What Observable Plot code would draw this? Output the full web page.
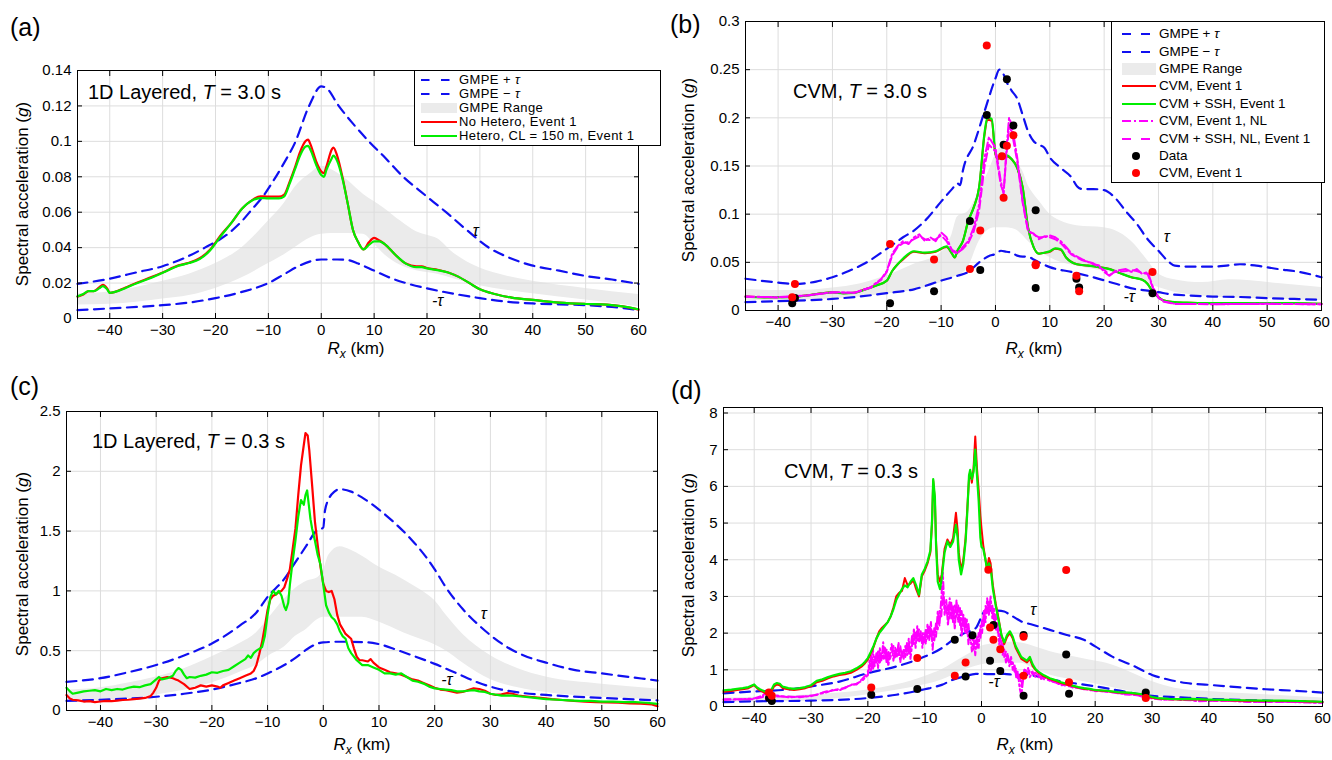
<!DOCTYPE html>
<html><head><meta charset="utf-8">
<script src="https://cdn.jsdelivr.net/npm/d3@7"></script>
<script src="https://cdn.jsdelivr.net/npm/@observablehq/plot@0.6"></script>
<style>
body{margin:0;background:#fff;}
#wrap{position:relative;width:1332px;height:760px;overflow:hidden;font-family:"Liberation Sans",Arial,sans-serif;color:#000;background:#fff;}
.pan{position:absolute;}
.t{position:absolute;white-space:nowrap;line-height:1;}
.yt{transform:translate(-50%,-50%) rotate(-90deg);font-size:17px;}
.xt{transform:translate(-50%,-50%);font-size:17px;}
.lg{position:absolute;border:1px solid #000;background:#fff;box-sizing:border-box;}
.lr{position:absolute;white-space:nowrap;line-height:1;}
</style></head>
<body><div id="wrap"></div>
<script>
// ---------- shared ticks ----------
const xTicks = [-40,-30,-20,-10,0,10,20,30,40,50,60];
const yTicksA = [0,0.02,0.04,0.06,0.08,0.1,0.12,0.14];
const yTicksB = [0,0.05,0.1,0.15,0.2,0.25,0.3];
const yTicksC = [0,0.5,1,1.5,2,2.5];
const yTicksD = [0,1,2,3,4,5,6,7,8];

// ---------- panel (a): 1D layered, T = 3.0 s ----------
const aPlus = [[-46.1,0.0195],[-40,0.0225],[-35,0.026],[-30,0.0295],[-26,0.034],[-22,0.040],[-18,0.047],[-15,0.055],[-13,0.062],[-11,0.069],[-9,0.078],[-7,0.088],[-5,0.099],[-2.3,0.120],[0,0.131],[1,0.130],[3.3,0.120],[6,0.110],[9,0.100],[12,0.091],[15.5,0.080],[19.5,0.070],[23.6,0.060],[27.5,0.050],[31.7,0.040],[35,0.035],[39.8,0.030],[45,0.027],[50,0.024],[55,0.022],[60,0.0195]];
const aMinus = [[-46.1,0.0047],[-40,0.0057],[-30,0.0075],[-25,0.009],[-20,0.0115],[-15,0.015],[-10,0.020],[-7,0.025],[-4,0.030],[-1,0.033],[0,0.0333],[3,0.0333],[5,0.033],[7,0.031],[10,0.027],[13,0.023],[16,0.020],[20,0.017],[25,0.014],[30,0.0115],[35,0.0095],[40,0.0085],[45,0.008],[50,0.0075],[55,0.0065],[60,0.0048]];
const aBand = [[-46.1,0.0076,0.014],[-40,0.008,0.015],[-30,0.011,0.021],[-25,0.013,0.025],[-20,0.017,0.031],[-15,0.023,0.040],[-10,0.031,0.055],[-7,0.036,0.065],[-5,0.040,0.074],[-2,0.0456,0.082],[0,0.0475,0.086],[2,0.048,0.084],[5,0.048,0.078],[8,0.0475,0.070],[10,0.042,0.066],[12,0.036,0.062],[15,0.030,0.055],[18,0.027,0.049],[20,0.026,0.047],[22,0.025,0.045],[25,0.0225,0.037],[30,0.0185,0.0285],[35,0.016,0.024],[40,0.014,0.021],[50,0.0105,0.017],[60,0.0067,0.0135]];
const aNoHetero = [[-46.1,0.0123],[-45,0.0135],[-44,0.0155],[-43,0.0155],[-42,0.0175],[-41.3,0.019],[-40.5,0.017],[-40,0.0145],[-39,0.015],[-37,0.0175],[-35,0.020],[-32,0.0235],[-30,0.026],[-27,0.030],[-25,0.0315],[-23,0.034],[-21,0.039],[-19,0.047],[-17,0.054],[-15,0.062],[-13,0.067],[-11.5,0.069],[-10,0.0688],[-8,0.0688],[-7,0.070],[-6,0.077],[-5,0.085],[-4,0.094],[-3,0.100],[-2.5,0.101],[-2,0.098],[-1,0.089],[0,0.083],[0.5,0.082],[1,0.086],[2,0.0955],[2.3,0.0965],[3,0.092],[4,0.080],[5,0.065],[6,0.050],[7,0.043],[8,0.039],[9,0.043],[10,0.0455],[11,0.044],[12,0.042],[14,0.036],[16,0.031],[18,0.0295],[19,0.0295],[20,0.0285],[22,0.0275],[24,0.026],[26,0.0235],[28,0.020],[30,0.0165],[33,0.0137],[36,0.0118],[40,0.0105],[45,0.009],[50,0.0082],[54,0.0078],[57,0.0068],[60,0.005]];
const aHetero = [[-46.1,0.0125],[-45,0.0138],[-44,0.0155],[-43,0.0155],[-42,0.017],[-41.3,0.0183],[-40.5,0.0165],[-40,0.0145],[-39,0.015],[-37,0.0172],[-35,0.0198],[-32,0.0232],[-30,0.0258],[-27,0.0298],[-25,0.0313],[-23,0.0335],[-21,0.0385],[-19,0.0465],[-17,0.054],[-15,0.062],[-13,0.0668],[-11.5,0.068],[-10,0.0678],[-8,0.0678],[-7,0.069],[-6,0.076],[-5,0.084],[-4,0.092],[-3,0.097],[-2.5,0.0975],[-2,0.095],[-1,0.087],[0,0.081],[0.5,0.080],[1,0.084],[2,0.0905],[2.3,0.092],[3,0.089],[4,0.079],[5,0.065],[6,0.050],[7,0.043],[8,0.039],[9,0.0415],[10,0.0435],[11,0.0435],[12,0.042],[14,0.036],[16,0.031],[18,0.029],[19,0.029],[20,0.0283],[22,0.0273],[24,0.026],[26,0.0235],[28,0.020],[30,0.0165],[33,0.0137],[36,0.0118],[40,0.0105],[45,0.009],[50,0.0082],[54,0.0078],[57,0.0068],[60,0.0052]];
const aTau = [[29.2,0.0497,"τ"],[22,0.0097,"-τ"]];

// ---------- panel (b): CVM, T = 3.0 s ----------
const bPlus = [[-46,0.033],[-40,0.029],[-37,0.0276],[-33,0.030],[-30,0.0345],[-27,0.041],[-24,0.049],[-20,0.064],[-17,0.076],[-15,0.083],[-13,0.093],[-10,0.113],[-8,0.126],[-7,0.132],[-6.5,0.130],[-6,0.145],[-4,0.172],[-2,0.207],[0,0.241],[0.7,0.250],[1.5,0.245],[2,0.238],[3,0.228],[4,0.220],[5,0.203],[6,0.186],[7,0.176],[8,0.172],[9,0.169],[10,0.159],[12,0.148],[14,0.138],[15,0.129],[16,0.126],[18,0.126],[20,0.125],[22,0.117],[24,0.103],[26,0.090],[28,0.074],[30,0.062],[32,0.050],[33,0.0466],[36,0.0455],[40,0.0455],[43,0.047],[45,0.048],[48,0.0466],[52,0.043],[56,0.040],[60,0.0345]];
const bMinus = [[-46,0.0086],[-40,0.0097],[-30,0.012],[-25,0.0145],[-20,0.018],[-15,0.022],[-10,0.031],[-7,0.036],[-5,0.040],[-3,0.050],[-1,0.057],[0,0.0586],[1,0.062],[2,0.061],[3,0.060],[4,0.057],[5,0.056],[6,0.056],[7,0.053],[10,0.045],[14,0.040],[18,0.0345],[22,0.028],[26,0.022],[28,0.0207],[30,0.019],[32,0.017],[36,0.0155],[40,0.0145],[45,0.014],[50,0.0128],[55,0.012],[60,0.011]];
const bBand = [[-46,0.0103,0.022],[-40,0.0105,0.0207],[-35,0.011,0.021],[-30,0.012,0.0234],[-25,0.014,0.0276],[-20,0.017,0.036],[-15,0.021,0.048],[-10,0.029,0.060],[-8,0.034,0.079],[-7,0.036,0.097],[-5,0.045,0.103],[-3,0.072,0.124],[-1,0.0845,0.148],[0,0.086,0.162],[1,0.086,0.169],[2,0.086,0.166],[3,0.085,0.159],[4,0.083,0.152],[5,0.078,0.145],[6,0.072,0.130],[7,0.067,0.121],[8,0.062,0.114],[10,0.055,0.100],[12,0.050,0.093],[15,0.046,0.088],[20,0.041,0.086],[22,0.039,0.083],[25,0.0345,0.072],[28,0.028,0.052],[30,0.024,0.038],[33,0.019,0.032],[38,0.015,0.029],[43,0.013,0.032],[47,0.0125,0.031],[52,0.012,0.028],[56,0.011,0.026],[60,0.0103,0.024]];
const bCVM = [[-46,0.0145],[-42,0.0138],[-38,0.014],[-35,0.0155],[-32,0.018],[-30,0.019],[-28,0.018],[-26,0.0185],[-24,0.022],[-22,0.026],[-20,0.031],[-19,0.041],[-18,0.048],[-17,0.053],[-15,0.061],[-13,0.0595],[-11,0.061],[-9,0.066],[-8,0.059],[-7.5,0.055],[-7,0.062],[-6,0.072],[-5,0.093],[-4,0.107],[-3,0.128],[-2,0.183],[-1.5,0.198],[-0.7,0.197],[0,0.162],[0.5,0.157],[1,0.162],[1.5,0.159],[2,0.160],[3,0.157],[4,0.148],[5,0.128],[6,0.086],[7,0.066],[8,0.059],[9,0.060],[10,0.061],[11,0.064],[12,0.063],[13,0.055],[15,0.048],[17,0.0466],[19,0.045],[21,0.043],[23,0.0386],[25,0.0345],[27,0.032],[28,0.0276],[29,0.019],[30,0.0138],[31,0.0103],[33,0.0086],[36,0.008],[40,0.0076],[45,0.0076],[50,0.0078],[55,0.0076],[60,0.0069]];
const bCVMSSH = [[-46,0.0143],[-42,0.0136],[-38,0.0138],[-35,0.0153],[-32,0.0178],[-30,0.0188],[-28,0.0178],[-26,0.0183],[-24,0.0218],[-22,0.0258],[-20,0.031],[-19,0.041],[-18,0.048],[-17,0.054],[-15,0.0615],[-13,0.060],[-11,0.0615],[-9,0.0665],[-8,0.059],[-7.5,0.055],[-7,0.062],[-6,0.072],[-5,0.093],[-4,0.107],[-3,0.128],[-2,0.185],[-1.5,0.200],[-0.7,0.199],[0,0.163],[0.5,0.158],[1,0.163],[1.5,0.160],[2,0.161],[3,0.157],[4,0.148],[5,0.128],[6,0.086],[7,0.066],[8,0.059],[9,0.060],[10,0.0615],[11,0.0645],[12,0.0635],[13,0.055],[15,0.048],[17,0.0466],[19,0.045],[21,0.043],[23,0.0386],[25,0.0345],[27,0.032],[28,0.0276],[29,0.019],[30,0.0138],[31,0.0103],[33,0.0086],[36,0.008],[40,0.0076],[45,0.0076],[50,0.0078],[55,0.0076],[60,0.0069]];
const bNL = [[-46,0.0145],[-40,0.0138],[-35,0.0155],[-30,0.019],[-26,0.0185],[-23,0.024],[-21,0.033],[-20,0.041],[-19,0.059],[-18,0.067],[-17,0.072],[-16,0.069],[-15,0.076],[-14,0.079],[-13,0.072],[-12,0.076],[-11,0.072],[-10,0.081],[-9,0.076],[-8,0.062],[-7,0.059],[-6,0.066],[-5,0.072],[-4,0.086],[-3,0.110],[-2,0.159],[-1.2,0.180],[0,0.169],[1,0.134],[1.5,0.121],[2,0.166],[2.5,0.200],[3,0.193],[4,0.159],[5,0.114],[6,0.083],[7,0.079],[8,0.076],[9,0.076],[10,0.078],[11,0.076],[12,0.072],[13,0.066],[14,0.059],[16,0.053],[18,0.048],[19,0.047],[20,0.040],[21,0.036],[22,0.041],[24,0.043],[25,0.040],[26,0.043],[27,0.038],[28,0.040],[29,0.024],[30,0.0138],[31,0.0095],[33,0.0069],[40,0.0065],[50,0.0069],[60,0.0065]];
const bNLSSH = [[-46,0.0143],[-40,0.0136],[-35,0.0153],[-30,0.0188],[-26,0.0183],[-23,0.0235],[-21,0.032],[-20,0.040],[-19,0.057],[-18,0.066],[-17,0.070],[-16,0.071],[-15,0.074],[-14,0.077],[-13,0.074],[-12,0.073],[-11,0.074],[-10,0.078],[-9,0.072],[-8,0.063],[-7,0.060],[-6,0.064],[-5,0.070],[-4,0.082],[-3,0.104],[-2,0.150],[-1.2,0.172],[0,0.165],[1,0.130],[1.5,0.123],[2,0.160],[2.5,0.190],[3,0.186],[4,0.155],[5,0.112],[6,0.082],[7,0.080],[8,0.074],[9,0.077],[10,0.076],[11,0.074],[12,0.070],[13,0.064],[14,0.058],[16,0.052],[18,0.049],[19,0.045],[20,0.042],[21,0.037],[22,0.040],[24,0.041],[25,0.042],[26,0.041],[27,0.039],[28,0.038],[29,0.023],[30,0.013],[31,0.009],[33,0.0068],[40,0.0066],[50,0.007],[60,0.0064]];
const stations = [-37.4,-36.9,-19.4,-11.3,-4.7,-2.8,-1.6,1.2,1.5,2.1,3.3,7.4,7.4,14.9,15.4,28.9];
const bData = [0.0076,0.013,0.0076,0.020,0.093,0.042,0.203,null,0.172,0.240,0.192,0.104,0.0234,0.033,0.024,0.018];
const bSim  = [0.0138,0.0276,0.069,0.053,0.043,0.083,0.275,0.160,0.117,0.171,0.182,0.048,0.047,0.036,0.020,0.040];
const bTau = [[31.5,0.076,"τ"],[24.6,0.0138,"-τ"]];

// ---------- panel (c): 1D layered, T = 0.3 s ----------
const cPlus = [[-46.1,0.24],[-40,0.27],[-35,0.32],[-30,0.38],[-25,0.46],[-20,0.56],[-15,0.71],[-12,0.82],[-10,0.95],[-7,1.10],[-5,1.24],[-3,1.38],[-1.3,1.50],[0,1.53],[0.3,1.67],[1,1.77],[2,1.83],[3,1.85],[5,1.83],[7,1.78],[10,1.68],[13,1.56],[16,1.42],[18.5,1.28],[20,1.18],[22,1.03],[25,0.85],[28,0.71],[30,0.63],[33,0.53],[36,0.46],[40,0.40],[45,0.34],[50,0.31],[55,0.28],[60,0.25]];
const cMinus = [[-46.1,0.08],[-40,0.09],[-30,0.115],[-25,0.14],[-20,0.175],[-15,0.23],[-12,0.27],[-10,0.31],[-7,0.38],[-5,0.44],[-3,0.51],[-1,0.56],[0,0.57],[3,0.575],[8,0.57],[10,0.555],[13,0.51],[16,0.46],[20,0.39],[24,0.31],[28,0.23],[32,0.175],[36,0.145],[40,0.13],[50,0.105],[60,0.085]];
const cBand = [[-46.1,0.075,0.17],[-40,0.085,0.19],[-35,0.10,0.23],[-30,0.13,0.28],[-25,0.17,0.35],[-20,0.23,0.45],[-15,0.32,0.56],[-12,0.38,0.65],[-10,0.45,0.76],[-7,0.53,0.93],[-5,0.62,1.02],[-3,0.68,1.08],[-1,0.76,1.11],[0,0.78,1.17],[1,0.78,1.30],[3,0.78,1.37],[5,0.78,1.34],[7,0.78,1.29],[10,0.74,1.20],[13,0.68,1.13],[16,0.62,1.05],[19,0.57,0.96],[20,0.55,0.92],[22,0.50,0.80],[25,0.40,0.64],[30,0.26,0.46],[35,0.19,0.35],[40,0.15,0.28],[50,0.11,0.22],[60,0.09,0.18]];
const cNoHetero = [[-46.1,0.13],[-45.5,0.10],[-45,0.09],[-44,0.085],[-43,0.075],[-42,0.078],[-41,0.07],[-40,0.075],[-39,0.08],[-38,0.078],[-37,0.083],[-36,0.088],[-35,0.09],[-34,0.095],[-33,0.10],[-32,0.105],[-31,0.12],[-30.5,0.15],[-30,0.19],[-29.5,0.25],[-29,0.27],[-28,0.28],[-27,0.27],[-26.5,0.26],[-26,0.25],[-25,0.22],[-24,0.18],[-23.5,0.185],[-23,0.19],[-22,0.21],[-21,0.20],[-20,0.21],[-19,0.20],[-18.5,0.19],[-18,0.21],[-17,0.23],[-16,0.25],[-15,0.27],[-14,0.29],[-13,0.31],[-12.5,0.33],[-12,0.38],[-11.5,0.47],[-11,0.57],[-10.5,0.70],[-10,0.84],[-9.5,0.93],[-9,0.96],[-8.5,0.97],[-8,0.99],[-7.5,1.00],[-7,1.03],[-6.5,1.10],[-6,1.18],[-5.5,1.35],[-5,1.52],[-4.5,1.80],[-4,2.05],[-3.5,2.22],[-3.2,2.32],[-2.8,2.30],[-2.5,2.17],[-2,1.88],[-1.5,1.58],[-1,1.38],[-0.5,1.20],[0,1.06],[0.5,1.0],[1,0.99],[1.5,1.0],[2,0.93],[2.5,0.80],[3,0.72],[3.5,0.68],[4,0.64],[5,0.60],[5.5,0.52],[6,0.45],[6.5,0.42],[7,0.42],[8,0.41],[8.5,0.43],[9,0.40],[10,0.36],[11,0.34],[12,0.32],[13,0.31],[14,0.30],[15,0.28],[16,0.26],[17,0.25],[18,0.23],[19,0.21],[20,0.19],[21,0.175],[22,0.17],[23,0.16],[24,0.15],[25,0.155],[26,0.17],[27,0.185],[28,0.18],[29,0.165],[30,0.14],[31,0.13],[32,0.135],[33,0.145],[34,0.14],[35,0.125],[37,0.115],[39,0.105],[41,0.095],[43,0.088],[45,0.08],[47,0.075],[49,0.07],[51,0.068],[53,0.066],[55,0.06],[57,0.058],[59,0.05],[60,0.035]];
const cHetero = [[-46.1,0.19],[-45.5,0.16],[-45,0.14],[-44,0.15],[-43,0.16],[-42,0.165],[-41,0.17],[-40,0.16],[-39,0.18],[-38,0.17],[-37,0.18],[-36,0.175],[-35,0.19],[-34,0.20],[-33,0.195],[-32,0.21],[-31,0.22],[-30,0.26],[-29.5,0.28],[-29,0.26],[-28,0.27],[-27,0.29],[-26.5,0.33],[-26,0.355],[-25.5,0.34],[-25,0.30],[-24.5,0.27],[-24,0.28],[-23,0.275],[-22,0.29],[-21,0.30],[-20,0.32],[-19,0.315],[-18,0.33],[-17,0.34],[-16,0.37],[-15,0.40],[-14,0.43],[-13.5,0.46],[-13,0.44],[-12.5,0.48],[-12,0.50],[-11,0.53],[-10.5,0.62],[-10,0.80],[-9.5,0.95],[-9,1.0],[-8.5,0.97],[-8,1.0],[-7.5,0.96],[-7,0.87],[-6.7,0.84],[-6.3,0.90],[-6,1.05],[-5.5,1.25],[-5,1.42],[-4.5,1.62],[-4,1.76],[-3.5,1.72],[-3.2,1.80],[-2.9,1.84],[-2.6,1.72],[-2.3,1.60],[-2,1.52],[-1.5,1.42],[-1,1.30],[-0.5,1.22],[0,1.05],[0.5,0.88],[1,0.82],[1.5,0.78],[2,0.76],[2.5,0.72],[3,0.66],[3.5,0.62],[4,0.60],[4.5,0.52],[5,0.48],[6,0.42],[7,0.38],[8,0.38],[9,0.36],[10,0.34],[11,0.31],[12,0.31],[13,0.30],[14,0.31],[15,0.28],[16,0.25],[17,0.24],[18,0.225],[19,0.20],[20,0.185],[21,0.18],[22,0.175],[23,0.17],[24,0.16],[25,0.16],[26,0.165],[27,0.17],[28,0.16],[29,0.155],[30,0.14],[32,0.125],[34,0.125],[36,0.115],[38,0.105],[40,0.095],[42,0.09],[44,0.085],[46,0.08],[48,0.08],[50,0.075],[52,0.075],[54,0.07],[56,0.07],[58,0.065],[60,0.055]];
const cTau = [[28.8,0.81,"τ"],[22.2,0.255,"-τ"]];

// ---------- panel (d): CVM, T = 0.3 s ----------
const dPlus = [[-45.4,0.36],[-40,0.41],[-35,0.45],[-30,0.55],[-25,0.68],[-20,0.91],[-15,1.09],[-10,1.36],[-7,1.59],[-5,1.82],[-3,2.0],[-1,2.14],[0,2.45],[0.5,2.59],[2,2.62],[4,2.59],[5,2.5],[6,2.41],[7,2.32],[9,2.23],[12,2.09],[15,1.95],[18,1.82],[20,1.64],[23,1.36],[27,1.09],[30,0.86],[33,0.73],[36,0.64],[40,0.59],[45,0.53],[50,0.47],[55,0.43],[60,0.38]];
const dMinus = [[-45.4,0.12],[-40,0.14],[-30,0.16],[-20,0.23],[-15,0.32],[-10,0.47],[-7,0.59],[-5,0.73],[-3,0.82],[-1,0.89],[0,0.89],[2,0.88],[4,0.89],[6,0.86],[8,0.86],[10,0.82],[13,0.71],[16,0.64],[20,0.55],[25,0.41],[30,0.29],[35,0.25],[40,0.21],[50,0.16],[60,0.12]];
const dBand = [[-45.4,0.11,0.23],[-40,0.12,0.25],[-30,0.15,0.32],[-20,0.32,0.45],[-15,0.44,0.59],[-10,0.59,0.82],[-7,0.72,1.0],[-5,0.86,1.18],[-3,1.0,1.36],[-1,1.1,1.55],[0,1.14,1.64],[2,1.17,1.71],[5,1.18,1.75],[7,1.18,1.73],[9,1.05,1.65],[12,0.86,1.5],[16,0.73,1.36],[19,0.65,1.27],[22,0.55,1.18],[26,0.42,0.95],[30,0.29,0.68],[34,0.24,0.5],[40,0.2,0.41],[50,0.15,0.32],[60,0.11,0.23]];
const dCVM = [[-45.4,0.40],[-44,0.42],[-43,0.45],[-42,0.47],[-41,0.50],[-40,0.58],[-39.5,0.50],[-39,0.44],[-38,0.36],[-37.5,0.32],[-37,0.40],[-36.5,0.55],[-36,0.60],[-35.5,0.58],[-35,0.50],[-34,0.47],[-33,0.45],[-32,0.47],[-31,0.50],[-30,0.55],[-29,0.66],[-28,0.70],[-27,0.77],[-26,0.82],[-25,0.86],[-24,0.88],[-23,0.92],[-22,1.0],[-21,1.1],[-20.5,1.18],[-20,1.28],[-19.5,1.45],[-19,1.62],[-18.5,1.85],[-18,2.05],[-17.5,2.15],[-17,2.22],[-16.5,2.3],[-16,2.45],[-15.5,2.7],[-15,3.0],[-14.5,3.1],[-14,3.15],[-13.5,3.5],[-13,3.3],[-12.5,3.35],[-12,3.45],[-11.5,3.2],[-11,3.0],[-10.5,3.55],[-10,3.7],[-9.5,3.9],[-9,4.2],[-8.7,5.0],[-8.5,6.15],[-8.2,5.6],[-8,4.5],[-7.7,3.6],[-7.3,3.4],[-7,3.6],[-6.5,4.3],[-6,4.55],[-5.5,4.4],[-5,4.6],[-4.5,5.28],[-4.2,4.8],[-4,4.2],[-3.6,3.7],[-3.2,4.0],[-2.8,4.6],[-2.5,5.4],[-2.2,6.2],[-2,6.4],[-1.7,6.1],[-1.4,6.5],[-1.1,7.36],[-0.8,6.5],[-0.5,5.9],[-0.2,5.2],[0,4.85],[0.3,4.4],[0.7,4.0],[1,3.75],[1.3,4.05],[1.6,3.9],[2,3.3],[2.5,2.8],[3,2.4],[3.5,1.95],[4,1.7],[4.5,1.9],[5,2.0],[5.5,1.85],[6,1.6],[6.5,1.45],[7,1.3],[7.5,1.25],[8,1.2],[8.5,1.3],[9,1.1],[9.5,1.0],[10,0.92],[11,0.82],[12,0.75],[13,0.7],[14,0.64],[15,0.6],[16,0.56],[17,0.52],[18,0.48],[19,0.47],[20,0.44],[22,0.42],[24,0.38],[26,0.37],[28,0.33],[29,0.3],[30,0.24],[31,0.22],[33,0.2],[35,0.19],[37,0.2],[40,0.18],[43,0.17],[46,0.16],[50,0.15],[53,0.15],[56,0.14],[60,0.12]];
const dCVMSSH = [[-45.4,0.44],[-44,0.46],[-43,0.48],[-42,0.50],[-41,0.53],[-40,0.60],[-39.5,0.52],[-39,0.47],[-38,0.40],[-37.5,0.36],[-37,0.45],[-36.5,0.60],[-36,0.64],[-35.5,0.62],[-35,0.54],[-34,0.50],[-33,0.48],[-32,0.50],[-31,0.53],[-30,0.58],[-29,0.70],[-28,0.74],[-27,0.80],[-26,0.85],[-25,0.89],[-24,0.92],[-23,0.96],[-22,1.04],[-21,1.14],[-20.5,1.22],[-20,1.32],[-19.5,1.48],[-19,1.65],[-18.5,1.85],[-18,2.0],[-17.5,2.1],[-17,2.2],[-16.5,2.3],[-16,2.45],[-15.5,2.65],[-15,2.9],[-14.5,3.05],[-14,3.2],[-13.5,3.3],[-13,3.25],[-12.5,3.4],[-12,3.5],[-11.5,3.3],[-11,3.05],[-10.5,3.6],[-10,3.75],[-9.5,3.95],[-9,4.25],[-8.7,5.1],[-8.5,6.2],[-8.2,5.7],[-8,4.4],[-7.7,3.4],[-7.3,3.2],[-7,3.5],[-6.5,4.2],[-6,4.5],[-5.5,4.35],[-5,4.5],[-4.5,4.95],[-4.2,4.6],[-4,4.0],[-3.6,3.6],[-3.2,3.9],[-2.8,4.5],[-2.5,5.3],[-2.2,6.3],[-2,6.45],[-1.7,6.2],[-1.4,6.4],[-1.1,7.0],[-0.8,6.3],[-0.5,5.6],[-0.2,4.6],[0,4.35],[0.3,4.3],[0.7,4.0],[1,3.7],[1.3,3.9],[1.6,3.8],[2,3.2],[2.5,2.75],[3,2.35],[3.5,1.95],[4,1.75],[4.5,1.95],[5,2.05],[5.5,1.9],[6,1.65],[6.5,1.5],[7,1.35],[7.5,1.3],[8,1.25],[8.5,1.35],[9,1.15],[9.5,1.02],[10,0.95],[11,0.85],[12,0.77],[13,0.72],[14,0.66],[15,0.62],[16,0.57],[17,0.53],[18,0.5],[19,0.48],[20,0.45],[22,0.43],[24,0.39],[26,0.38],[28,0.34],[29,0.31],[30,0.26],[31,0.23],[33,0.21],[35,0.2],[37,0.21],[40,0.19],[43,0.18],[46,0.17],[50,0.16],[53,0.16],[56,0.15],[60,0.13]];
const dNL = [[-45.4,0.20],[-43,0.19],[-40,0.22],[-38.5,0.30],[-38,0.36],[-37,0.28],[-36,0.30],[-34,0.25],[-32,0.27],[-30,0.28],[-29,0.33],[-28,0.36],[-27,0.40],[-26,0.46],[-25,0.44],[-24,0.52],[-23,0.58],[-22,0.62],[-21,0.70],[-20.4,0.80],[-20,0.85],[-19.7,1.25],[-19.4,0.95],[-19.1,1.55],[-18.8,1.10],[-18.5,1.45],[-18.2,1.05],[-17.9,1.60],[-17.6,1.25],[-17.3,1.75],[-17,1.30],[-16.7,1.55],[-16.4,1.10],[-16.1,1.45],[-15.8,1.70],[-15.5,1.25],[-15.2,1.60],[-14.9,1.35],[-14.6,1.75],[-14.3,1.20],[-14,1.50],[-13.7,1.30],[-13.4,1.65],[-13.1,1.40],[-12.8,1.85],[-12.5,1.30],[-12.2,1.70],[-11.9,2.10],[-11.6,1.60],[-11.3,2.20],[-11,1.75],[-10.7,2.05],[-10.4,1.60],[-10.1,2.00],[-9.8,1.70],[-9.5,2.25],[-9.2,1.80],[-8.9,2.30],[-8.6,1.55],[-8.3,2.15],[-8,1.90],[-7.7,2.60],[-7.4,2.20],[-7.1,2.90],[-6.8,3.65],[-6.5,2.50],[-6.2,2.90],[-5.9,2.20],[-5.6,2.95],[-5.3,2.40],[-5,2.75],[-4.7,2.10],[-4.4,2.90],[-4.1,2.30],[-3.8,2.70],[-3.5,1.90],[-3.2,2.50],[-2.9,2.00],[-2.6,2.40],[-2.3,1.70],[-2,2.00],[-1.7,1.50],[-1.4,1.85],[-1.1,1.40],[-0.8,1.90],[-0.5,1.60],[-0.2,2.20],[0.1,2.00],[0.4,2.60],[0.7,2.30],[1,2.95],[1.3,2.50],[1.6,3.00],[1.9,2.40],[2.2,2.70],[2.5,2.10],[2.8,2.30],[3.1,1.70],[3.4,1.95],[3.7,1.40],[4,1.55],[4.3,1.20],[4.6,1.45],[4.9,1.10],[5.2,1.35],[5.5,1.00],[5.8,1.15],[6.1,0.80],[6.4,0.95],[6.7,0.50],[7,0.30],[7.3,0.70],[7.6,1.00],[7.9,0.85],[8.2,1.05],[8.5,0.80],[9,0.95],[9.5,0.80],[10,0.88],[10.5,0.75],[11,0.80],[12,0.70],[13,0.66],[14,0.58],[15,0.60],[16,0.52],[17,0.50],[18,0.50],[19,0.44],[20,0.45],[22,0.40],[24,0.38],[25,0.33],[27,0.33],[28,0.28],[30,0.22],[32,0.18],[34,0.21],[35,0.18],[37,0.17],[38,0.14],[40,0.15],[42,0.17],[45,0.14],[47,0.13],[50,0.12],[52,0.14],[55,0.12],[57,0.11],[60,0.10]];
const dNLSSH = [[-45.4,0.18],[-43,0.20],[-40,0.20],[-38.5,0.26],[-38,0.33],[-37,0.30],[-36,0.27],[-34,0.27],[-32,0.25],[-30,0.30],[-29,0.31],[-28,0.38],[-27,0.42],[-26,0.44],[-25,0.48],[-24,0.50],[-23,0.60],[-22,0.60],[-21,0.75],[-20.4,0.85],[-20,0.95],[-19.7,1.05],[-19.4,1.40],[-19.1,1.00],[-18.8,1.35],[-18.5,1.20],[-18.2,1.50],[-17.9,1.15],[-17.6,1.45],[-17.3,1.30],[-17,1.60],[-16.7,1.20],[-16.4,1.50],[-16.1,1.30],[-15.8,1.45],[-15.5,1.65],[-15.2,1.30],[-14.9,1.55],[-14.6,1.40],[-14.3,1.65],[-14,1.35],[-13.7,1.55],[-13.4,1.35],[-13.1,1.75],[-12.8,1.40],[-12.5,1.60],[-12.2,1.95],[-11.9,1.70],[-11.6,2.05],[-11.3,1.80],[-11,2.10],[-10.7,1.75],[-10.4,2.00],[-10.1,1.75],[-9.8,2.10],[-9.5,1.85],[-9.2,2.20],[-8.9,1.90],[-8.6,2.05],[-8.3,1.80],[-8,2.30],[-7.7,2.10],[-7.4,2.60],[-7.1,2.40],[-6.8,3.10],[-6.5,2.70],[-6.2,2.55],[-5.9,2.80],[-5.6,2.40],[-5.3,2.85],[-5,2.30],[-4.7,2.75],[-4.4,2.45],[-4.1,2.75],[-3.8,2.20],[-3.5,2.60],[-3.2,2.15],[-2.9,2.45],[-2.6,2.00],[-2.3,2.25],[-2,1.80],[-1.7,1.95],[-1.4,1.55],[-1.1,1.80],[-0.8,1.60],[-0.5,2.00],[-0.2,1.85],[0.1,2.35],[0.4,2.20],[0.7,2.75],[1,2.50],[1.3,2.85],[1.6,2.60],[1.9,2.75],[2.2,2.35],[2.5,2.50],[2.8,2.00],[3.1,2.15],[3.4,1.60],[3.7,1.75],[4,1.35],[4.3,1.50],[4.6,1.25],[4.9,1.30],[5.2,1.15],[5.5,1.20],[5.8,0.95],[6.1,1.05],[6.4,0.75],[6.7,0.85],[7,0.55],[7.3,0.80],[7.6,1.05],[7.9,0.95],[8.2,0.90],[8.5,1.00],[9,0.88],[9.5,0.92],[10,0.80],[10.5,0.82],[11,0.74],[12,0.72],[13,0.65],[14,0.62],[15,0.55],[16,0.56],[17,0.50],[18,0.47],[19,0.47],[20,0.42],[22,0.41],[24,0.36],[25,0.35],[27,0.31],[28,0.29],[30,0.24],[32,0.20],[34,0.18],[35,0.21],[37,0.18],[38,0.16],[40,0.16],[42,0.15],[45,0.16],[47,0.12],[50,0.13],[52,0.12],[55,0.13],[57,0.12],[60,0.11]];
const dData = [0.23,0.15,0.32,0.48,1.82,0.82,1.94,null,1.25,2.22,0.97,1.95,0.29,1.42,0.35,0.38];
const dSim  = [0.38,0.29,0.52,1.32,0.84,1.20,null,3.73,2.15,1.82,1.56,1.90,0.84,3.72,0.66,0.23];
const dTau = [[9.1,2.64,"τ"],[2.2,0.68,"-τ"]];

// ---------- styles ----------
const BLUE = "#1010f0", RED = "#ff0000", GREEN = "#00ee00", MAG = "#ff00ff", BAND = "#ebebeb", GRID = "#dddddd";
const DASH = "10,6.5";
const FONT = "'Liberation Sans', Arial, Helvetica, sans-serif";

const X = d => d[0], Y = d => d[1];
const fmtX = d => d < 0 ? "\u2212" + Math.abs(d) : String(d);
const fmtY = d => String(+d.toFixed(4));

function dataPts(vals) { return stations.map((s, i) => [s, vals[i]]).filter(d => d[1] != null); }

function panel(cfg) {
  const m = [
    Plot.areaY(cfg.band, {x: X, y1: Y, y2: d => d[2], fill: BAND, curve: "monotone-x"}),
    Plot.gridX(xTicks, {stroke: GRID, strokeOpacity: 1, strokeWidth: 1}),
    Plot.gridY(cfg.yTicks, {stroke: GRID, strokeOpacity: 1, strokeWidth: 1}),
    Plot.line(cfg.plus, {x: X, y: Y, stroke: BLUE, strokeWidth: 2.2, strokeDasharray: DASH, curve: "monotone-x"}),
    Plot.line(cfg.minus, {x: X, y: Y, stroke: BLUE, strokeWidth: 2.2, strokeDasharray: DASH, curve: "monotone-x"}),
    ...cfg.marks,
    Plot.text(cfg.tau, {x: X, y: Y, text: d => d[2], fontSize: 16, fontStyle: "italic", fill: "#000"}),
    Plot.frame({stroke: "#000", strokeWidth: 1}),
    Plot.axisX(xTicks, {anchor: "bottom", tickSize: -5, tickPadding: 11, tickFormat: fmtX, label: null, fontSize: 15}),
    Plot.axisX(xTicks, {anchor: "top", tickSize: -5, tickFormat: () => "", label: null}),
    Plot.axisY(cfg.yTicks, {anchor: "left", tickSize: -5, tickPadding: 11, tickFormat: fmtY, label: null, fontSize: 15}),
    Plot.axisY(cfg.yTicks, {anchor: "right", tickSize: -5, tickFormat: () => "", label: null})
  ];
  return Plot.plot({
    width: cfg.w, height: cfg.h,
    marginLeft: cfg.ml, marginRight: cfg.mr, marginTop: cfg.mt, marginBottom: cfg.mb,
    x: {domain: cfg.xdom}, y: {domain: cfg.ydom},
    style: {fontFamily: FONT, fontSize: "15px", color: "#000", background: "transparent", overflow: "visible"},
    marks: m
  });
}

const wrap = document.getElementById("wrap");
function place(node, left, top) {
  const d = document.createElement("div");
  d.className = "pan"; d.style.left = left + "px"; d.style.top = top + "px";
  d.appendChild(node); wrap.appendChild(d);
}
function txt(html, left, top, cls, size, extra) {
  const d = document.createElement("div");
  d.className = "t " + (cls || ""); d.innerHTML = html;
  d.style.left = left + "px"; d.style.top = top + "px";
  if (size) d.style.fontSize = size + "px";
  if (extra) Object.assign(d.style, extra);
  wrap.appendChild(d);
}

const solid = (data, color, w) => Plot.line(data, {x: X, y: Y, stroke: color, strokeWidth: w || 2, curve: "monotone-x"});
const jag = (data, color, w, dash) => Plot.line(data, {x: X, y: Y, stroke: color, strokeWidth: w || 2, strokeDasharray: dash, strokeLinejoin: "round"});
const dots = (vals, color) => Plot.dot(dataPts(vals), {x: X, y: Y, r: 4, fill: color, stroke: "none"});

// (a)
place(panel({w: 670, h: 370, ml: 77, mr: 32, mt: 70, mb: 52, xdom: [-46.1, 60], ydom: [0, 0.14], yTicks: yTicksA,
  band: aBand, plus: aPlus, minus: aMinus, tau: aTau,
  marks: [solid(aNoHetero, RED, 2.2), solid(aHetero, GREEN, 2.2)]}), 0, 0);
// (b)
place(panel({w: 667, h: 370, ml: 80, mr: 11, mt: 21, mb: 60, xdom: [-46, 60], ydom: [0, 0.3], yTicks: yTicksB,
  band: bBand, plus: bPlus, minus: bMinus, tau: bTau,
  marks: [solid(bCVM, RED, 2), solid(bCVMSSH, GREEN, 2.2),
          jag(bNL, MAG, 2, "9,3,2,3"), jag(bNLSSH, MAG, 2, "8,4"),
          dots(bData, "#000"), dots(bSim, RED)]}), 665, 0);
// (c)
place(panel({w: 670, h: 390, ml: 66, mr: 13, mt: 41, mb: 50, xdom: [-46.1, 60], ydom: [0, 2.5], yTicks: yTicksC,
  band: cBand, plus: cPlus, minus: cMinus, tau: cTau,
  marks: [jag(cNoHetero, RED, 2.2), jag(cHetero, GREEN, 2.2)]}), 0, 370);
// (d)
place(panel({w: 667, h: 390, ml: 58, mr: 10, mt: 37, mb: 54, xdom: [-45.4, 60], ydom: [0, 8.15], yTicks: yTicksD,
  band: dBand, plus: dPlus, minus: dMinus, tau: dTau,
  marks: [jag(dNL, MAG, 2, "7,3,2,3"), jag(dNLSSH, MAG, 2, "7,4"),
          jag(dCVM, RED, 2), jag(dCVMSSH, GREEN, 2.2),
          dots(dData, "#000"), dots(dSim, RED)]}), 665, 370);

// panel letters
txt("(a)", 10, 15, "", 25); txt("(b)", 670, 12, "", 25);
txt("(c)", 10, 374, "", 25); txt("(d)", 671, 378, "", 25);
// inner titles
txt("1D Layered, <i>T</i> = 3.0 s", 88, 82, "", 20);
txt("CVM, <i>T</i> = 3.0 s", 793, 81, "", 20);
txt("1D Layered, <i>T</i> = 0.3 s", 92, 431, "", 20);
txt("CVM, <i>T</i> = 0.3 s", 784, 461, "", 20);
// axis titles
const yTitle = "Spectral acceleration (<i>g</i>)";
const xTitle = "<i>R</i><sub style='font-size:12px;vertical-align:-4px'><i>x</i></sub> (km)";
txt(yTitle, 22, 194, "yt"); txt(yTitle, 688, 170, "yt");
txt(yTitle, 22, 564, "yt"); txt(yTitle, 688, 565, "yt");
txt(xTitle, 356, 350, "xt"); txt(xTitle, 1034, 350, "xt");
txt(xTitle, 362, 746, "xt"); txt(xTitle, 1025, 746, "xt");

// legends
function legend(box, rows, opt) {
  const L = document.createElement("div");
  L.className = "lg";
  Object.assign(L.style, {left: box[0] + "px", top: box[1] + "px", width: box[2] + "px", height: box[3] + "px"});
  rows.forEach((r, i) => {
    const cy = opt.centers[i];
    const sw = opt.s1 - opt.s0;
    const svg = document.createElementNS("http://www.w3.org/2000/svg", "svg");
    svg.setAttribute("width", sw); svg.setAttribute("height", 12);
    svg.style.position = "absolute"; svg.style.left = opt.s0 + "px"; svg.style.top = (cy - 6) + "px";
    let el;
    if (r.kind === "line") {
      el = document.createElementNS(svg.namespaceURI, "line");
      el.setAttribute("x1", 0); el.setAttribute("x2", sw); el.setAttribute("y1", 6); el.setAttribute("y2", 6);
      el.setAttribute("stroke", r.color); el.setAttribute("stroke-width", r.w || 2.2);
      if (r.dash) el.setAttribute("stroke-dasharray", r.dash);
    } else if (r.kind === "rect") {
      el = document.createElementNS(svg.namespaceURI, "rect");
      el.setAttribute("x", 0); el.setAttribute("width", sw); el.setAttribute("y", 6 - r.h / 2); el.setAttribute("height", r.h);
      el.setAttribute("fill", BAND);
    } else {
      el = document.createElementNS(svg.namespaceURI, "circle");
      el.setAttribute("cx", sw / 2 - 3); el.setAttribute("cy", 6); el.setAttribute("r", 4); el.setAttribute("fill", r.color);
    }
    svg.appendChild(el); L.appendChild(svg);
    const t = document.createElement("div");
    t.className = "lr"; t.innerHTML = r.label;
    Object.assign(t.style, {left: opt.tx + "px", top: (cy - opt.fs * 0.52) + "px", fontSize: opt.fs + "px", letterSpacing: (opt.ls || 0) + "px"});
    L.appendChild(t);
  });
  wrap.appendChild(L);
}
const legA = ["GMPE + <i>τ</i>", "GMPE \u2212 <i>τ</i>", "GMPE Range", "No Hetero, Event 1", "Hetero, CL = 150 m, Event 1"];
legend([414, 70, 247, 76], [
  {kind: "line", color: BLUE, dash: "8.5,11.5", label: legA[0]},
  {kind: "line", color: BLUE, dash: "8.5,11.5", label: legA[1]},
  {kind: "rect", h: 10, label: legA[2]},
  {kind: "line", color: RED, label: legA[3]},
  {kind: "line", color: GREEN, label: legA[4]}
], {centers: [9, 23, 37, 51, 65], s0: 6, s1: 42, tx: 44, fs: 13, ls: 0.4});
const legB = ["GMPE + <i>τ</i>", "GMPE \u2212 <i>τ</i>", "GMPE Range", "CVM, Event 1", "CVM + SSH, Event 1", "CVM, Event 1, NL", "CVM + SSH, NL, Event 1", "Data", "CVM, Event 1"];
legend([1111, 21, 214, 162], [
  {kind: "line", color: BLUE, dash: "9,10", label: legB[0]},
  {kind: "line", color: BLUE, dash: "9,10", label: legB[1]},
  {kind: "rect", h: 12, label: legB[2]},
  {kind: "line", color: RED, label: legB[3]},
  {kind: "line", color: GREEN, label: legB[4]},
  {kind: "line", color: MAG, dash: "9,3,2,3", label: legB[5]},
  {kind: "line", color: MAG, dash: "9,10", label: legB[6]},
  {kind: "dot", color: "#000", label: legB[7]},
  {kind: "dot", color: RED, label: legB[8]}
], {centers: [12.3, 29.7, 46.7, 64, 81.7, 99, 116.7, 133.7, 150.7], s0: 10, s1: 44, tx: 47, fs: 13.5});
</script></body></html>
